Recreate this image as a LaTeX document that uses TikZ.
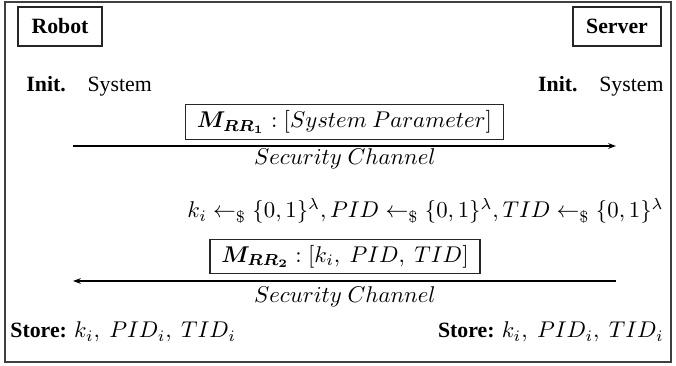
\RequirePackage{fix-cm}
\documentclass[tikz,border=0pt]{standalone}
\usepackage{amsmath,bm}
\usepackage[no-math]{fontspec}
\setmainfont{Liberation Serif}
\usetikzlibrary{arrows.meta}
\newcommand{\mathsz}{\fontsize{10.45}{12.5}\selectfont}
\begin{document}
\begin{tikzpicture}[x=0.4587pt,y=-0.4587pt,
  framebox/.style={draw=black!75, line width=0.6pt},
  party/.style={draw=black!85, line width=0.6pt, font=\bfseries, minimum height=17.9pt, inner sep=0pt},
  msg/.style={draw=black!85, line width=0.6pt, minimum height=15.8pt, inner ysep=0pt, inner xsep=5.2pt, font=\mathsz},
  txt/.style={inner sep=0pt},
  mtxt/.style={inner sep=0pt, font=\mathsz},
  link/.style={-{Stealth[length=3.6pt,width=2.6pt]}, line width=0.5pt}]
\useasboundingbox (0,0) rectangle (676,366);
\draw[framebox] (5,2) rectangle (671,362);
% parties
\node[party, minimum width=38.5pt] (robot) at (60,26.5) {Robot};
\node[party, minimum width=40.4pt] (server) at (617,26.5) {Server};
% init
\node[txt, anchor=base west] (initL) at (26,92) {\textbf{Init.}\quad System};
\node[txt, anchor=base east] (initR) at (664,92) {\textbf{Init.}\quad System};
% message 1
\node[msg] (m1) at (344.5,122) {$\bm{M_{RR_1}} : [System\ Parameter]$};
\coordinate (a1s) at (73,146);
\coordinate (a1e) at (616,146);
\draw[link] (a1s) -- (a1e);
\node[mtxt, anchor=base] (sc1) at (345,165) {$Security\ Channel$};
% generation
\node[mtxt, anchor=base east] (gen) at (664,218) {$k_i \leftarrow_{\$} \{0,1\}^{\lambda}, PID \leftarrow_{\$} \{0,1\}^{\lambda}, TID \leftarrow_{\$} \{0,1\}^{\lambda}$};
% message 2
\node[msg] (m2) at (345,256.5) {$\bm{M_{RR_2}} : [k_i,\ PID,\ TID]$};
\coordinate (a2s) at (616,281);
\coordinate (a2e) at (73,281);
\draw[link] (a2s) -- (a2e);
\node[mtxt, anchor=base] (sc2) at (345,303) {$Security\ Channel$};
% store
\node[txt, anchor=base west] (storeL) at (10,338) {\textbf{Store:} {\mathsz$k_i,\ PID_i,\ TID_i$}};
\node[txt, anchor=base east] (storeR) at (664,338) {\textbf{Store:} {\mathsz$k_i,\ PID_i,\ TID_i$}};
\end{tikzpicture}
\end{document}
